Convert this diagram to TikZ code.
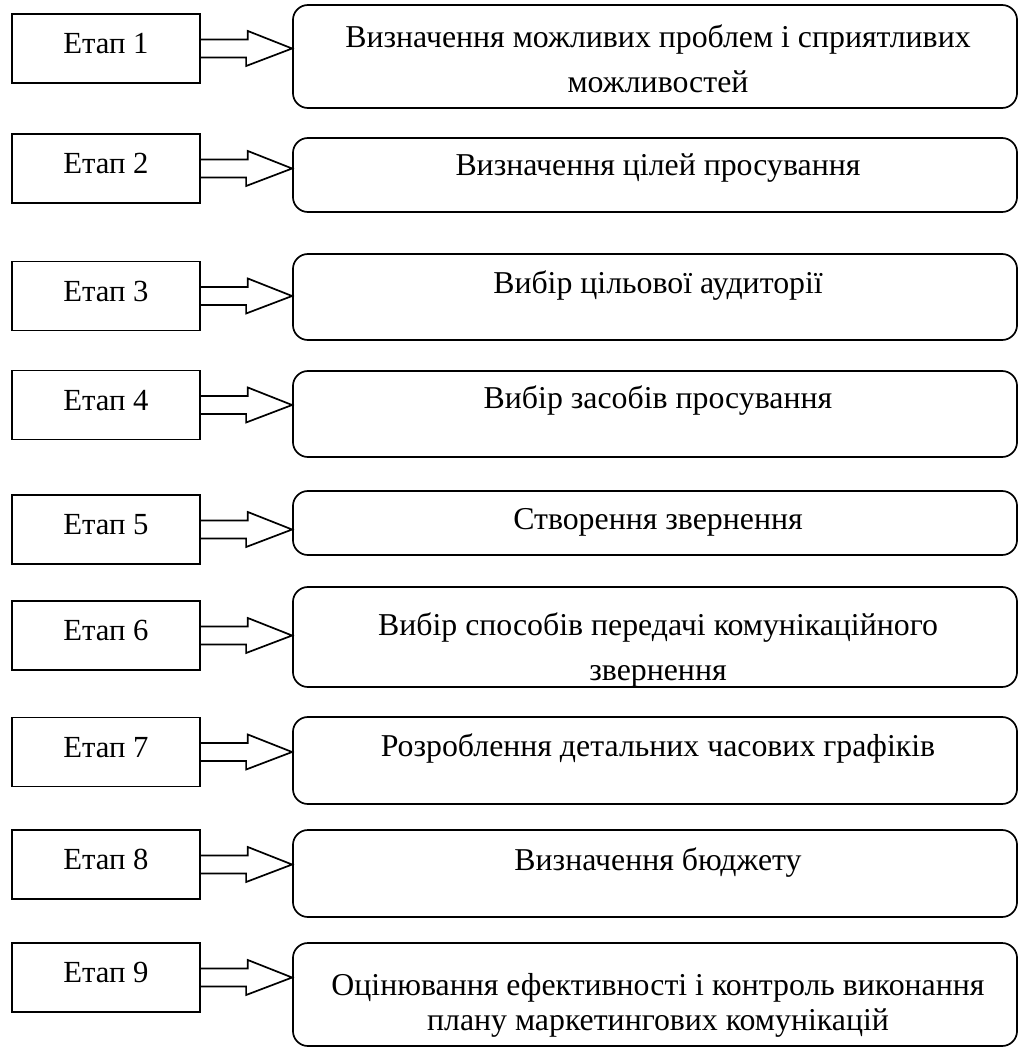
\documentclass[tikz,border=0pt]{standalone}
\usepackage{fontspec}
\setmainfont{Liberation Serif}
\usetikzlibrary{calc}

\begin{document}
\begin{tikzpicture}[x=0.44pt,y=-0.44pt,line width=0.75pt]
         \tikzset{etap/.style={draw,minimum width=82.7pt,minimum height=30.4pt,inner sep=0pt,
           font=\fontsize{13.5}{16}\selectfont,text height=9pt,text depth=4.6pt}}
         \tikzset{krok/.style={draw,rounded corners=6.6pt,minimum width=318.6pt,inner sep=0pt}}
         \tikzset{zmist/.style={anchor=base,align=center,inner sep=0pt,font=\fontsize{14}{19.8}\selectfont}}
         \useasboundingbox (0,0) rectangle (1020,1048);
         % \yl = baseline of the last text line
         \foreach \i/\cy/\yt/\yb/\yl/\txt in {
           1/48.5/5/108/92/{Визначення можливих проблем і сприятливих\\можливостей},
           2/168.5/138/212/175/{Визначення цілей просування},
           3/296/254/340/293/{Вибір цільової аудиторії},
           4/405/371/457/408/{Вибір засобів просування},
           5/529.5/491/555/529/{Створення звернення},
           6/635.5/587/687/680/{Вибір способів передачі комунікаційного\\звернення},
           7/752/717/804/756/{Розроблення детальних часових графіків},
           8/864.5/830/917/870/{Визначення бюджету},
           9/977.5/943/1046/1030/{Оцінювання ефективності і контроль виконання\\[-4.4pt]плану маркетингових комунікацій}}
         {
           \pgfmathsetmacro\hb{(\yb-\yt)*0.44}
           \node[etap] (s\i) at (106,\cy) {Етап \i};
           \node[krok,minimum height=\hb pt] (b\i) at (655,{(\yt+\yb)/2}) {};
           \node[zmist] (t\i) at (658,\yl) {\txt};
           \draw ($(s\i.east)+(0,-9)$) -- ++(47,0) -- ++(0,-8.5) -- (s\i.east -| b\i.west)
             -- ++(-46,17.5) -- ++(0,-8.5) -- ($(s\i.east)+(0,9)$);
         }
\end{tikzpicture}
\end{document}
